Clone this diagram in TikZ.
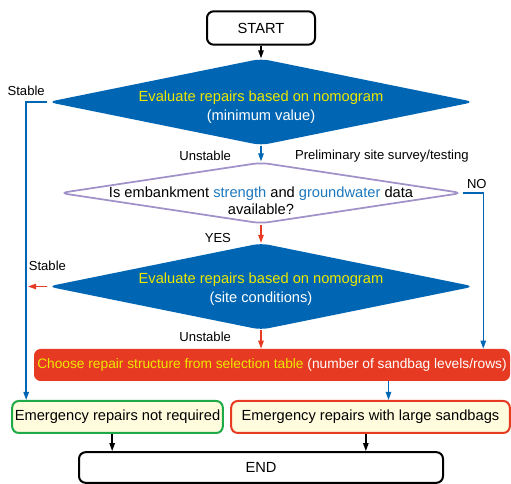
\documentclass[tikz,border=0pt]{standalone}
\usepackage{fontspec}
\setmainfont{Liberation Sans}
\usepackage{xcolor}
\usetikzlibrary{shapes.geometric,arrows.meta,positioning,calc}
\definecolor{diablue}{RGB}{0,102,179}
\definecolor{boxred}{RGB}{230,59,34}
\definecolor{txtyellow}{RGB}{238,232,0}
\definecolor{lavender}{RGB}{160,145,200}
\definecolor{wordblue}{RGB}{30,120,190}
\definecolor{boxgreen}{RGB}{30,170,70}
\definecolor{cream}{RGB}{255,252,222}

\begin{document}
\begin{tikzpicture}[x=0.75pt,y=-0.75pt,
    every node/.style={font=\fontsize{11}{14.5}\selectfont},
    termbox/.style={draw,line width=1.5pt,rounded corners=5pt,inner sep=0pt},
    bluedia/.style={diamond,fill=diablue,rounded corners=6pt,inner sep=0pt,minimum width=320pt},
    askdia/.style={diamond,draw=lavender,line width=1.3pt,fill=white,rounded corners=6pt,inner sep=0pt},
    resultbox/.style={draw,line width=1.5pt,fill=cream,rounded corners=5pt,inner sep=0pt,minimum height=24pt},
    diatext/.style={align=center,text=white,inner sep=0pt},
    lbl/.style={font=\fontsize{9.8}{12}\selectfont,inner sep=1pt},
    blk/.style={-{Triangle[length=6pt,width=4pt]},line width=1.1pt},
    blu/.style={blk,draw=diablue},
    redline/.style={blk,draw=boxred}]
    \useasboundingbox (0,0) rectangle (511,484);
    % Boxes and decisions
    \node[termbox,minimum width=81pt,minimum height=25pt] (start) at (261,28) {START};
    \node[bluedia,minimum height=65pt] (eval1) at (261,102) {};
    \node[diatext] (eval1txt) at (261,107) {\textcolor{txtyellow}{Evaluate repairs based on nomogram}\\(minimum value)};
    \node[askdia,minimum width=302pt,minimum height=46pt] (ask) at (261,193) {};
    \node[diatext,text=black,font=\fontsize{11}{13}\selectfont] (asktxt) at (261,201) {Is embankment \textcolor{wordblue}{strength} and \textcolor{wordblue}{groundwater} data\\available?};
    \node[bluedia,minimum height=65pt] (eval2) at (261,286.5) {};
    \node[diatext] (eval2txt) at (261,289) {\textcolor{txtyellow}{Evaluate repairs based on nomogram}\\(site conditions)};
    \node[fill=boxred,rounded corners=5pt,minimum width=357pt,minimum height=24pt,inner sep=0pt,text=white,font=\fontsize{10.3}{12}\selectfont] (choose) at (272,365) {\textcolor{txtyellow}{Choose repair structure from selection table} (number of sandbag levels/rows)};
    \node[resultbox,draw=boxgreen,minimum width=158pt] (norepair) at (117.5,417) {Emergency repairs not required};
    \node[resultbox,draw=boxred,minimum width=209pt] (sandbags) at (370.5,417) {Emergency repairs with large sandbags};
    \node[termbox,minimum width=273pt,minimum height=23pt] (finish) at (261,467.5) {END};
    % Helper points
    \coordinate (stabletop) at ($(norepair.north west)+(15,0)$);
    \coordinate (notop) at ($(choose.north east)+(-27,0)$);
    \coordinate (bagtop) at ($(sandbags.north)+(18,0)$);
    \coordinate (stableend) at (28,286.5);
    % Connectors
    \draw[blk] (start) -- (eval1);
    \draw[blu] (eval1.west) -| (stabletop) node[lbl,pos=0.5,above=3.5pt,text=black] (stable1) {Stable};
    \draw[blu] (eval1.south) -- (ask.north)
        node[lbl,midway,left=21pt,yshift=-2pt,text=black] (unstable1) {Unstable}
        node[lbl,midway,right=24pt,yshift=-2pt,text=black] (survey) {Preliminary site survey/testing};
    \draw[blu] (ask.east) -| (notop) node[lbl,pos=0.34,above=2pt,text=black] (no) {NO};
    \draw[redline] (ask.south) -- (eval2.north) node[lbl,midway,left=21pt,yshift=-3pt,text=black] (yes) {YES};
    \draw[redline] (eval2.west) -- (stableend) node[lbl,pos=0,above=10pt,text=black] (stable2) {Stable};
    \draw[redline] (eval2.south) -- (eval2.south |- choose.north) node[lbl,midway,left=21pt,yshift=2pt,text=black] (unstable2) {Unstable};
    \draw[blu] (choose.south -| bagtop) -- (bagtop);
    \draw[blk] ([xshift=-4pt]norepair.south) -- ([xshift=-4pt]norepair.south |- finish.north);
    \draw[blk] ([xshift=-3.5pt]sandbags.south) -- ([xshift=-3.5pt]sandbags.south |- finish.north);
\end{tikzpicture}
\end{document}
